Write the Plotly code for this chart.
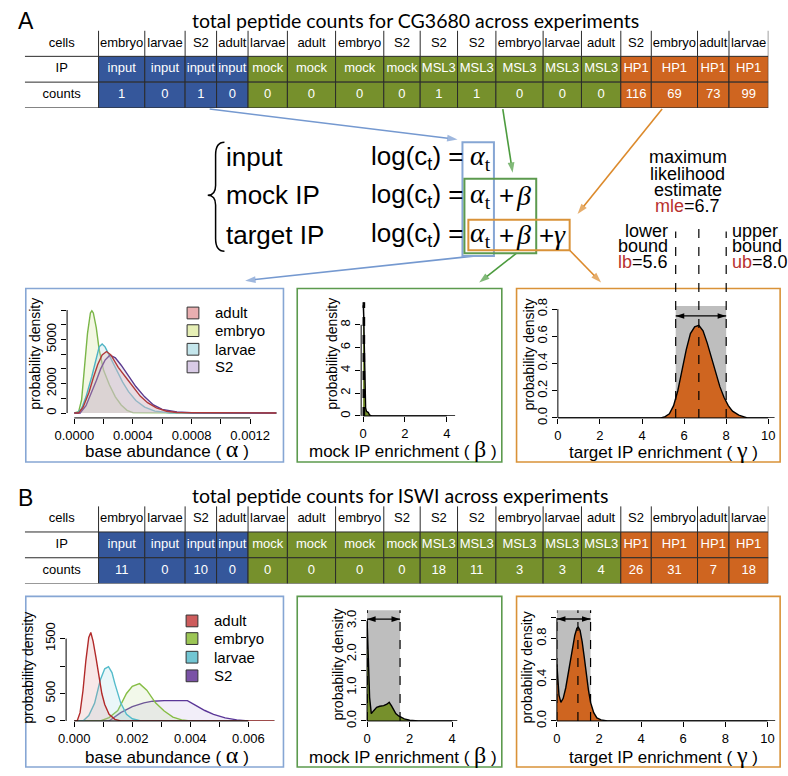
import plotly.graph_objects as go

W, H = 788, 776
ARIAL = "Liberation Sans, Arial, sans-serif"
SERIF = "Liberation Serif, Times New Roman, serif"
TITLE_FONT = "Lato, Open Sans, sans-serif"

BLUE = "#35579b"
GREEN = "#76902c"
ORANGE = "#cf6520"
CELL_LINE = "#2b2b2b"
BOX_BLUE = "#86a6d4"
BOX_GREEN = "#5c9a4e"
BOX_ORANGE = "#d99238"
ARROW_BLUE = "#7599d0"
ARROW_GREEN = "#4c9b3e"
ARROW_ORANGE = "#dc8a2c"
DARK_RED = "#b8312f"
SHADE = "#bebebe"

# ---- table data ----
cell_types = ["embryo", "larvae", "S2", "adult", "larvae", "adult", "embryo", "S2",
              "S2", "S2", "embryo", "larvae", "adult", "S2", "embryo", "adult", "larvae"]
ip_labels = ["input"] * 4 + ["mock"] * 4 + ["MSL3"] * 5 + ["HP1"] * 4
counts_cg3680 = [1, 0, 1, 0, 0, 0, 0, 0, 1, 1, 0, 0, 0, 116, 69, 73, 99]
counts_iswi = [11, 0, 10, 0, 0, 0, 0, 0, 18, 11, 3, 3, 4, 26, 31, 7, 18]
ip_colours = {"input": BLUE, "mock": GREEN, "MSL3": GREEN, "HP1": ORANGE}
stages = ["adult", "embryo", "larvae", "S2"]

# ---- CG3680 posterior densities ----
cg_alpha = {
    "embryo": ([0, 0.00003, 0.00005, 0.00007, 0.00009, 0.00011, 0.00012, 0.00013, 0.00015,
                0.00017, 0.0002, 0.00024, 0.00028, 0.00032, 0.00036, 0.0004, 0.00138],
               [0, 100, 900, 3000, 5400, 6800, 6950, 6800, 5800, 4300, 2900, 1900, 1100,
                550, 180, 30, 0]),
    "larvae": ([0, 0.00002, 0.00005, 0.00008, 0.00012, 0.00015, 0.00017, 0.00019, 0.00021,
                0.00025, 0.00029, 0.00033, 0.00037, 0.00042, 0.00048, 0.00055, 0.00065, 0.00138],
               [0, 0, 300, 1100, 2500, 3800, 4500, 4700, 4500, 3700, 2900, 2100, 1450, 850,
                400, 130, 20, 0]),
    "S2": ([0, 0.00004, 0.00008, 0.00012, 0.00015, 0.00018, 0.00021, 0.000243, 0.00028,
            0.00032, 0.00037, 0.00042, 0.00048, 0.00054, 0.0006, 0.0007, 0.0008, 0.00138],
           [0, 0, 500, 1400, 2200, 3000, 3600, 3930, 3750, 3250, 2550, 1800, 1100, 550,
            250, 70, 15, 0]),
    "adult": ([0, 0.00003, 0.00006, 0.0001, 0.00013, 0.00016, 0.00019, 0.00022, 0.00025,
               0.0003, 0.00035, 0.0004, 0.00045, 0.0005, 0.00056, 0.00063, 0.0007, 0.00138],
              [0, 0, 400, 1400, 2400, 3300, 3950, 4180, 3950, 3100, 2450, 1800, 1150, 700,
               350, 120, 40, 0]),
}
cg_beta_x = [0, 0.01, 0.03, 0.05, 0.07, 0.09, 0.12, 0.16, 0.2, 0.25, 0.3, 0.4, 4.4]
cg_beta_y = [9.7, 9.6, 8.6, 6.5, 3.8, 1.8, 0.7, 0.4, 0.35, 0.3, 0.1, 0, 0]
cg_gamma_x = [0, 4.9, 5.1, 5.3, 5.5, 5.7, 5.9, 6.1, 6.3, 6.5, 6.7, 6.9, 7.1, 7.3, 7.5,
              7.7, 7.9, 8.1, 8.3, 8.6, 9.0, 10.3]
cg_gamma_y = [0, 0, 0.01, 0.03, 0.09, 0.2, 0.35, 0.5, 0.62, 0.67, 0.68, 0.64, 0.55, 0.44,
              0.33, 0.23, 0.15, 0.09, 0.05, 0.02, 0, 0]
cg_beta_bounds = (0.0, 0.03, 0.07)
cg_gamma_bounds = (5.6, 6.7, 8.0)

# ---- ISWI posterior densities ----
iswi_alpha = {
    "S2": ([0, 0.0012, 0.0016, 0.002, 0.0024, 0.0027, 0.0031, 0.0035, 0.0039, 0.0042,
            0.0045, 0.0048, 0.0052, 0.0056, 0.006, 0.0069],
           [0, 0, 150, 260, 330, 360, 370, 370, 370, 280, 190, 120, 55, 20, 0, 0]),
    "embryo": ([0, 0.0009, 0.0012, 0.0015, 0.0018, 0.002, 0.00225, 0.0025, 0.0028, 0.0031,
                0.0034, 0.0037, 0.004, 0.0069],
               [0, 0, 60, 190, 500, 630, 680, 560, 330, 180, 70, 20, 0, 0]),
    "larvae": ([0, 0.0003, 0.0005, 0.0007, 0.0009, 0.00105, 0.00118, 0.0013, 0.0014, 0.0016,
                0.0018, 0.002, 0.0023, 0.0069],
               [0, 0, 100, 320, 750, 950, 990, 880, 680, 330, 120, 40, 0, 0]),
    "adult": ([0, 0.0001, 0.0002, 0.0003, 0.0004, 0.0005, 0.00057, 0.00065, 0.00075, 0.00085,
               0.00095, 0.00105, 0.0012, 0.0014, 0.0016, 0.0069],
              [0, 0, 150, 550, 1100, 1520, 1610, 1450, 1150, 800, 500, 300, 120, 30, 0, 0]),
}
iswi_beta_x = [0, 0.04, 0.08, 0.12, 0.16, 0.2, 0.3, 0.45, 0.6, 0.78, 0.93, 1.04, 1.15, 1.25,
               1.35, 1.48, 1.6, 1.75, 2.0, 2.4, 4.25]
iswi_beta_y = [3.05, 2.5, 1.5, 0.7, 0.32, 0.22, 0.3, 0.41, 0.44, 0.46, 0.5, 0.56, 0.45, 0.31,
               0.22, 0.15, 0.1, 0.06, 0.02, 0, 0]
iswi_gamma_x = [0, 0.05, 0.1, 0.19, 0.3, 0.42, 0.55, 0.65, 0.75, 0.85, 0.95, 1.02, 1.1, 1.2,
                1.3, 1.4, 1.5, 1.6, 1.75, 1.9, 2.1, 2.4, 10.4]
iswi_gamma_y = [0.55, 0.4, 0.25, 0.18, 0.22, 0.32, 0.48, 0.6, 0.72, 0.83, 0.9, 0.91, 0.88,
                0.77, 0.62, 0.45, 0.3, 0.18, 0.08, 0.03, 0.01, 0, 0]
iswi_beta_bounds = (0.0, 0.0, 1.55)
iswi_gamma_bounds = (0.0, 1.0, 1.6)

# ---- styles ----
line_a = {"adult": "#b03a3a", "embryo": "#7ab648", "larvae": "#4db3c4", "S2": "#5a3a8e"}
fill_a = {"adult": "rgba(225,185,185,0.3)", "embryo": "rgba(225,235,185,0.4)",
          "larvae": "rgba(185,215,220,0.3)", "S2": "rgba(200,190,220,0.3)"}
key_a = {"adult": "#e9aeb0", "embryo": "#e6efb5", "larvae": "#c4e6ec", "S2": "#d9cbe6"}
line_b = {"adult": "#b22a2a", "embryo": "#86bd45", "larvae": "#55bccb", "S2": "#5b3798"}
fill_b = {"adult": "rgba(220,140,140,0.2)", "embryo": "rgba(190,220,150,0.2)",
          "larvae": "rgba(150,215,225,0.2)", "S2": "rgba(190,170,225,0.2)"}
key_b = {"adult": "#cd5c5c", "embryo": "#9cc655", "larvae": "#72c6d3", "S2": "#7a52a6"}

COL_WIDTHS = [47, 41, 32, 32, 40, 49, 49, 37, 38, 39, 48, 39, 40, 31, 47, 32, 40]
TABLE_LEFT, LABEL_RIGHT, ROW_H = 12, 87, 26.3
CANVAS = 9  # full-page axis pair (pixel units) for the connector arrows

fig = go.Figure()
axes = {}
shapes = []
annotations = []


def axis_names(i):
    return ("x" if i == 1 else f"x{i}"), ("y" if i == 1 else f"y{i}")


def px(x):
    return x / W


def py(y):
    return 1 - y / H


def text(t, x, y, size, color="black", family=ARIAL, xanchor="center", yanchor="middle", angle=0):
    annotations.append(dict(text=t, x=px(x), y=py(y), xref="paper", yref="paper",
                            xanchor=xanchor, yanchor=yanchor, showarrow=False, textangle=angle,
                            font=dict(family=family, size=size, color=color)))


def arrow(tail, tip, color, width=1.6):
    xa, ya = axis_names(CANVAS)
    fig.add_trace(go.Scatter(x=[tail[0], tip[0]], y=[tail[1], tip[1]], mode="lines+markers",
                             line=dict(color=color, width=width),
                             marker=dict(symbol="arrow", size=[0, 11], angleref="previous",
                                         color=color, line=dict(width=0)),
                             xaxis=xa, yaxis=ya, hoverinfo="skip", showlegend=False,
                             cliponaxis=False))


def rect(x0, y0, x1, y1, color, width=1.6, fill=None):
    shapes.append(dict(type="rect", xref="paper", yref="paper", x0=px(x0), x1=px(x1),
                       y0=py(y1), y1=py(y0), line=dict(color=color, width=width),
                       fillcolor=fill or "rgba(0,0,0,0)"))


def add_table(i, counts, top):
    xa, ya = axis_names(i)
    n = len(COL_WIDTHS)
    edges = [LABEL_RIGHT]
    for w in COL_WIDTHS:
        edges.append(edges[-1] + w)
    centers = [(a + b) / 2 for a, b in zip(edges[:-1], edges[1:])]
    colours = [ip_colours[ip] for ip in ip_labels]
    axes["xaxis" + xa[1:]] = dict(domain=[px(TABLE_LEFT), px(edges[-1])],
                                  range=[TABLE_LEFT, edges[-1]], visible=False, fixedrange=True)
    axes["yaxis" + ya[1:]] = dict(domain=[py(top + 3 * ROW_H), py(top)], range=[0, 3],
                                  visible=False, fixedrange=True)
    kw = dict(xaxis=xa, yaxis=ya, hoverinfo="skip", showlegend=False)
    rows = ((1, ip_labels), (0, [str(c) for c in counts]))
    for base, labels in rows:
        fig.add_trace(go.Bar(x=centers, y=[1] * n, base=[base] * n, width=COL_WIDTHS,
                             marker=dict(color=colours, line=dict(color=CELL_LINE, width=1)),
                             **kw))
        fig.add_trace(go.Scatter(x=centers, y=[base + 0.5] * n, mode="text", text=labels,
                                 textfont=dict(family=ARIAL, size=13, color="white"),
                                 cliponaxis=False, **kw))
    fig.add_trace(go.Scatter(x=centers, y=[2.5] * n, mode="text", text=cell_types,
                             textfont=dict(family=ARIAL, size=13, color="black"),
                             cliponaxis=False, **kw))
    lab_x = (TABLE_LEFT + LABEL_RIGHT) / 2
    fig.add_trace(go.Scatter(x=[lab_x] * 3, y=[2.5, 1.5, 0.5], mode="text",
                             text=["cells", "IP", "counts"],
                             textfont=dict(family=ARIAL, size=13, color="black"),
                             cliponaxis=False, **kw))
    sx, sy = [], []
    for e in edges:
        sx += [e, e, None]
        sy += [2, 3, None]
    for r in (0, 1, 2):
        sx += [TABLE_LEFT, LABEL_RIGHT, None]
        sy += [r, r, None]
    fig.add_trace(go.Scatter(x=sx, y=sy, mode="lines", line=dict(color=CELL_LINE, width=1),
                             cliponaxis=False, **kw))


def setup_plot(i, xdom, ydom, xr, yr, xticks, xminor, yticks, yminor):
    xa, ya = axis_names(i)
    common = dict(showgrid=False, zeroline=False, showline=False, ticks="outside", ticklen=5,
                  tickwidth=1, tickcolor="black", tickmode="array", fixedrange=True,
                  tickfont=dict(family=ARIAL, size=13, color="black"))
    axes["xaxis" + xa[1:]] = dict(domain=[px(xdom[0]), px(xdom[1])], range=list(xr),
                                  anchor=ya, tickvals=[v for v, _ in xticks],
                                  ticktext=[t for _, t in xticks],
                                  minor=dict(tickmode="array", tickvals=xminor, ticks="outside",
                                             ticklen=5, tickcolor="black", tickwidth=1),
                                  **common)
    axes["yaxis" + ya[1:]] = dict(domain=[py(ydom[1]), py(ydom[0])], range=list(yr),
                                  anchor=xa, tickvals=[v for v, _ in yticks],
                                  ticktext=[t for _, t in yticks], tickangle=-90,
                                  minor=dict(tickmode="array", tickvals=yminor, ticks="outside",
                                             ticklen=5, tickcolor="black", tickwidth=1),
                                  **common)
    xs = [v for v, _ in xticks] + list(xminor)
    ys = [v for v, _ in yticks] + list(yminor)
    shapes.append(dict(type="line", xref=xa, yref=f"{ya} domain", x0=min(xs), x1=max(xs),
                       y0=0, y1=0, line=dict(color="black", width=1)))
    shapes.append(dict(type="line", xref=f"{xa} domain", yref=ya, x0=0, x1=0, y0=min(ys),
                       y1=max(ys), line=dict(color="black", width=1)))


def density(i, x, y, line_colour, fill_colour, width=1.4):
    xa, ya = axis_names(i)
    fig.add_trace(go.Scatter(x=x, y=y, mode="lines", fill="tozeroy", fillcolor=fill_colour,
                             line=dict(color=line_colour, width=width), xaxis=xa, yaxis=ya,
                             hoverinfo="skip", showlegend=False))


def interval(i, bounds, arrow_y, dash_top=None, arrow_on=True):
    xa, ya = axis_names(i)
    lb, mle, ub = bounds
    shapes.append(dict(type="rect", xref=xa, yref=f"{ya} domain", x0=lb, x1=ub, y0=0, y1=1,
                       fillcolor=SHADE, line=dict(width=0), layer="below"))
    for k, v in enumerate(bounds):
        if dash_top is None:
            shapes.append(dict(type="line", xref=xa, yref=f"{ya} domain", x0=v, x1=v, y0=0,
                               y1=1, line=dict(color="black", width=1.2, dash="dash")))
        else:
            d = axes["yaxis" + ya[1:]]["domain"][0]
            shapes.append(dict(type="line", xref=xa, yref="paper", x0=v, x1=v, y0=d,
                               y1=py(dash_top[k]),
                               line=dict(color="black", width=1.2, dash="dash")))
    if arrow_on:
        fig.add_trace(go.Scatter(x=[lb, ub], y=[arrow_y, arrow_y], mode="lines+markers",
                                 line=dict(color="black", width=1.4),
                                 marker=dict(symbol="arrow", size=9, angle=[270, 90],
                                             color="black", line=dict(width=0)),
                                 xaxis=xa, yaxis=ya, hoverinfo="skip", showlegend=False,
                                 cliponaxis=False))


def greek_label(words, letter, x, y, size=17):
    t = (f'{words} ( <span style="font-family:\'Liberation Serif\';font-size:{size + 7}px">'
         f'{letter}</span> )')
    text(t, x, y, size)


def legend(colours, x0, ys):
    for s, yc in zip(stages, ys):
        rect(x0, yc - 6, x0 + 12, yc + 6, "#333333", width=1, fill=colours[s])
        text(s, x0 + 26, yc, 15, xanchor="left")


# full-page canvas for connector arrows
cx, cy = axis_names(CANVAS)
axes["xaxis" + cx[1:]] = dict(domain=[0, 1], range=[0, W], visible=False, fixedrange=True)
axes["yaxis" + cy[1:]] = dict(domain=[0, 1], range=[H, 0], visible=False, fixedrange=True)

# ================= panel A =================
text("A", 3, 13, 23, xanchor="left")
text("total peptide counts for CG3680 across experiments", 180, 13, 19.5,
     family=TITLE_FONT, xanchor="left")
add_table(7, counts_cg3680, 23)

# model equations
bx = [(215, 137), (206, 137), (206, 150), (206, 181), (206, 191), (198, 191), (206, 191),
      (206, 201), (206, 235), (206, 248), (215, 248)]
p = [f"{px(a):.5f},{py(b):.5f}" for a, b in bx]
shapes.append(dict(type="path", xref="paper", yref="paper",
                   path=f"M{p[0]} Q{p[1]} {p[2]} L{p[3]} Q{p[4]} {p[5]} Q{p[6]} {p[7]} "
                        f"L{p[8]} Q{p[9]} {p[10]}",
                   line=dict(color="black", width=1.5)))
for row, (label, yc) in enumerate((("input", 152), ("mock IP", 191), ("target IP", 231))):
    text(label, 215, yc, 26, xanchor="left")
    text("log(c<sub>t</sub>) =", 362, yc, 26, xanchor="left")
    text("<i>α</i><sub>t</sub>", 463, yc, 28, family=SERIF, xanchor="left")
    if row >= 1:
        text("+", 492, yc, 26, xanchor="left")
        text("<i>β</i>", 509, yc, 28, family=SERIF, xanchor="left")
    if row == 2:
        text("+", 533, yc, 26, xanchor="left")
        text("<i>γ</i>", 548, yc, 28, family=SERIF, xanchor="left")
rect(457, 137, 489, 253, BOX_BLUE, width=2)
rect(459, 174, 532, 250, BOX_GREEN, width=2)
rect(463, 216, 566, 247, BOX_ORANGE, width=2)

arrow((200, 103), (452, 134), ARROW_BLUE)
arrow((498, 103), (508, 168), ARROW_GREEN)
arrow((660, 103), (574, 210), ARROW_ORANGE)
arrow((468, 253), (236, 278), ARROW_BLUE)
arrow((512, 250), (474, 280), ARROW_GREEN)
arrow((566, 247), (598, 280), ARROW_ORANGE)

# mle annotation
for line, yc in (("maximum", 152), ("likelihood", 169), ("estimate", 186)):
    text(line, 686, yc, 18)
text(f'<span style="color:{DARK_RED}">mle</span>=6.7', 686, 202, 18)
text("lower", 668, 227, 18, xanchor="right")
text("bound", 668, 243, 18, xanchor="right")
text(f'<span style="color:{DARK_RED}">lb</span>=5.6', 668, 259, 18, xanchor="right")
text("upper", 729, 227, 18, xanchor="left")
text("bound", 729, 243, 18, xanchor="left")
text(f'<span style="color:{DARK_RED}">ub</span>=8.0', 729, 259, 18, xanchor="left")

# panel boxes A
rect(13, 286, 275, 463, BOX_BLUE)
rect(289, 286, 497, 463, BOX_GREEN)
rect(512, 286, 780, 463, BOX_ORANGE)

setup_plot(1, (55, 268), (305, 418), (-0.000049, 0.00138), (-333, 7200),
           [(0, "0.0000"), (0.0004, "0.0004"), (0.0008, "0.0008"), (0.0012, "0.0012")],
           [0.0002, 0.0006, 0.001],
           [(0, "0"), (2000, "2000"), (5000, "5000")],
           [1000, 3000, 4000, 6000, 7000])
for s in ("embryo", "larvae", "S2", "adult"):
    density(1, *cg_alpha[s], line_a[s], fill_a[s])
legend(key_a, 177, [311, 329, 348, 366])
text("probability density", 23, 353, 14, angle=-90)
greek_label("base abundance", "α", 157, 450)

setup_plot(2, (354, 450), (300, 416), (-0.094, 4.42), (0, 9.98),
           [(0, "0"), (2, "2"), (4, "4")], [],
           [(0, "0"), (2, "2"), (4, "4"), (6, "6"), (8, "8")], [])
interval(2, cg_beta_bounds, 9.0, arrow_on=False)
density(2, cg_beta_x, cg_beta_y, "black", GREEN, width=1.4)
text("probability density", 325, 353, 14, angle=-90)
greek_label("mock IP enrichment", "β", 397, 450)

setup_plot(3, (554, 775), (304, 418), (0, 10.33), (0, 0.822),
           [(v, str(v)) for v in (0, 2, 4, 6, 8, 10)], [],
           [(0, "0.0"), (0.2, "0.2"), (0.4, "0.4"), (0.6, "0.6"), (0.8, "0.8")], [])
interval(3, cg_gamma_bounds, 0.75, dash_top=(228, 218, 228))
density(3, cg_gamma_x, cg_gamma_y, "black", ORANGE, width=1.4)
text("probability density", 525, 353, 14, angle=-90)
greek_label("target IP enrichment", "γ", 661, 451)

# ================= panel B =================
text("B", 3, 500, 23, xanchor="left")
text("total peptide counts for ISWI across experiments", 180, 497, 19.5,
     family=TITLE_FONT, xanchor="left")
add_table(8, counts_iswi, 508)

rect(13, 600, 275, 774, BOX_BLUE)
rect(289, 600, 497, 774, BOX_GREEN)
rect(512, 600, 780, 774, BOX_ORANGE)

setup_plot(4, (54, 266), (613, 727), (-0.000281, 0.006905), (0, 2036),
           [(0, "0.000"), (0.002, "0.002"), (0.004, "0.004"), (0.006, "0.006")],
           [0.001, 0.003, 0.005],
           [(0, "0"), (500, "500"), (1500, "1500")], [1000])
for s in ("S2", "embryo", "larvae", "adult"):
    density(4, *iswi_alpha[s], line_b[s], fill_b[s])
legend(key_b, 176, [625, 643, 662, 681])
text("probability density", 15, 673, 14, angle=-90)
greek_label("base abundance", "α", 157, 762)

setup_plot(5, (360, 452), (614, 727), (0, 4.25), (0, 3.32),
           [(0, "0"), (2, "2"), (4, "4")], [],
           [(0, "0.0"), (1, "1.0"), (2, "2.0"), (3, "3.0")], [0.5, 1.5, 2.5])
interval(5, iswi_beta_bounds, 3.05)
density(5, iswi_beta_x, iswi_beta_y, "black", GREEN, width=1.4)
text("probability density", 330, 670, 14, angle=-90)
greek_label("mock IP enrichment", "β", 397, 762)

setup_plot(6, (553, 775), (614, 727), (0, 10.37), (0, 1.076),
           [(v, str(v)) for v in (0, 2, 4, 6, 8, 10)], [],
           [(0, "0.0"), (0.4, "0.4"), (0.8, "0.8")], [0.2, 0.6, 1.0])
interval(6, iswi_gamma_bounds, 0.99)
density(6, iswi_gamma_x, iswi_gamma_y, "black", ORANGE, width=1.4)
text("probability density", 523, 672, 14, angle=-90)
greek_label("target IP enrichment", "γ", 661, 762)

fig.update_layout(
    width=W,
    height=H,
    margin=dict(l=0, r=0, t=0, b=0),
    paper_bgcolor="white",
    plot_bgcolor="rgba(0,0,0,0)",
    showlegend=False,
    barmode="overlay",
    shapes=shapes,
    annotations=annotations,
    **axes,
)
fig.write_html(
    "out.html",
    config={"displayModeBar": False, "staticPlot": True},
    post_script="document.body.style.margin='0';document.body.style.overflow='hidden';",
)
